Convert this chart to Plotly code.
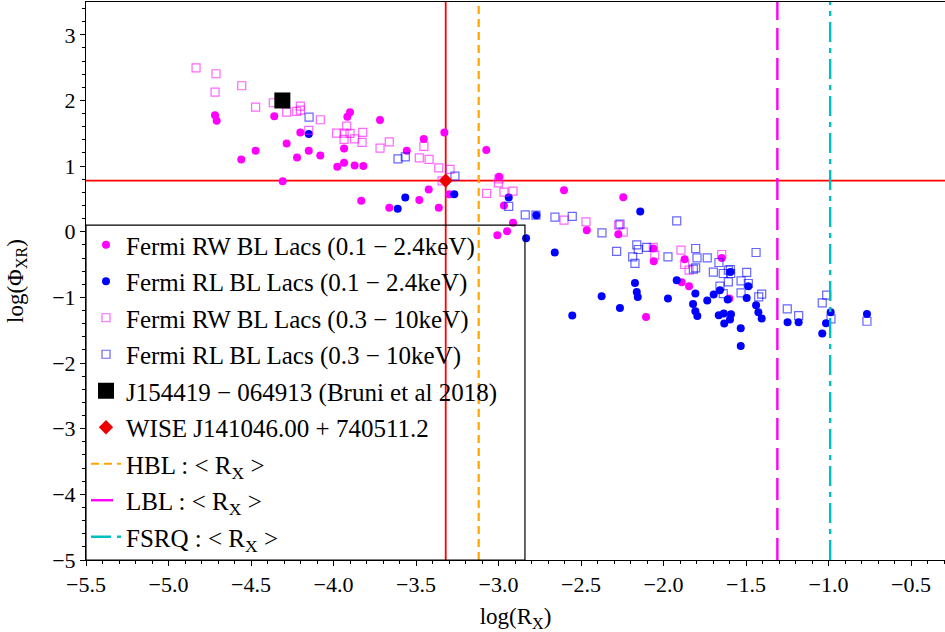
import plotly.graph_objects as go

# ---------------- data ----------------
rw_soft_x = [-4.718, -4.708, -4.359, -4.201, -4.284, -4.472, -4.559, -4.150, -4.221, -4.080,
             -3.936, -3.977, -3.936, -4.308, -3.916, -3.900, -3.718, -3.328, -3.453, -3.556,
             -3.872, -3.819, -3.074, -2.997, -3.423, -3.832, -3.480, -3.662, -3.362, -3.298,
             -2.967, -2.912, -2.948, -3.007, -2.603, -2.244, -2.465, -2.274, -2.062, -2.059,
             -1.872, -1.890, -1.845, -1.647, -2.106, -1.601]
rw_soft_y = [1.773, 1.691, 1.758, 1.514, 1.346, 1.233, 1.102, 1.233, 1.133, 1.163,
             1.270, 0.989, 1.050, 0.771, 1.752, 1.819, 1.701, 1.514, 1.412, 1.233,
             1.011, 1.000, 1.244, 0.837, 0.645, 0.471, 0.482, 0.364, 0.364, 0.573,
             0.401, 0.136, 0.009, -0.052, 0.634, 0.527, 0.024, -0.037, -0.255, -0.448,
             -0.418, -0.768, -0.829, -0.398, -1.297, -1.017]

rl_soft_x = [-4.150, -3.565, -3.611, -3.268, -2.938, -2.833, -2.771, -2.659, -2.141, -1.920,
             -2.173, -2.162, -2.156, -2.375, -2.264, -2.553, -1.973, -1.807, -1.821, -1.807,
             -1.795, -1.735, -1.696, -1.658, -1.665, -1.635, -1.632, -1.611, -1.595, -1.591,
             -1.597, -1.532, -1.532, -1.496, -1.486, -1.439, -1.425, -1.405, -1.248, -1.181,
             -0.987, -1.015, -1.038, -0.767]
rl_soft_y = [1.488, 0.523, 0.349, 0.573, 0.523, -0.098, 0.253, -0.316, 0.309, -0.738,
             -0.779, -0.916, -0.992, -0.982, -1.160, -1.276, -1.017, -0.941, -1.099, -1.210,
             -1.282, -1.047, -0.956, -0.890, -1.271, -1.245, -1.398, -1.032, -0.611, -1.256,
             -1.337, -1.470, -1.739, -1.008, -0.829, -1.119, -1.226, -1.322, -1.378, -1.378,
             -1.226, -1.393, -1.550, -1.252]

rw_hard_x = [-4.833, -4.712, -4.556, -4.718, -4.472, -4.365, -4.284, -4.223, -4.201, -4.201,
             -4.080, -4.150, -3.981, -3.936, -3.936, -3.920, -3.900, -3.872, -3.827, -3.823,
             -3.718, -3.662, -3.452, -3.480, -3.421, -3.362, -3.294, -3.342, -2.997, -3.001,
             -3.072, -2.967, -2.912, -2.603, -2.470, -2.272, -2.244, -2.062, -2.053, -1.894,
             -1.872, -1.845, -1.647]
rw_hard_y = [2.498, 2.407, 2.224, 2.128, 1.899, 1.965, 1.823, 1.834, 1.915, 1.854,
             1.706, 1.544, 1.503, 1.503, 1.407, 1.610, 1.498, 1.416, 1.361, 1.514,
             1.274, 1.370, 1.300, 1.127, 1.102, 0.974, 0.950, 0.776, 0.806, 0.745,
             0.584, 0.604, 0.619, 0.177, 0.151, 0.101, -0.006, -0.239, -0.357, -0.280,
             -0.498, -0.585, -0.346]

rl_hard_x = [-4.148, -3.609, -3.565, -3.264, -2.938, -2.838, -2.773, -2.658, -2.553, -2.373,
             -2.264, -2.284, -2.162, -2.187, -2.173, -2.153, -2.102, -1.973, -1.920, -1.805,
             -1.819, -1.805, -1.797, -1.735, -1.664, -1.698, -1.638, -1.607, -1.658, -1.638,
             -1.439, -1.595, -1.593, -1.607, -1.496, -1.530, -1.486, -1.530, -1.405, -1.423,
             -1.250, -1.181, -1.011, -1.038, -0.985, -0.767]
rl_hard_y = [1.747, 1.111, 1.142, 0.848, 0.386, 0.258, 0.253, 0.223, 0.233, -0.017,
             0.116, -0.300, -0.200, -0.383, -0.483, -0.270, -0.239, -0.383, 0.166, -0.255,
             -0.570, -0.550, -0.398, -0.398, -0.468, -0.616, -0.636, -0.585, -0.829, -0.941,
             -0.316, -0.575, -0.636, -0.764, -0.620, -0.748, -0.788, -0.931, -0.951, -0.992,
             -1.175, -1.276, -0.966, -1.084, -1.328, -1.363]

bruni_x = [-4.31]
bruni_y = [2.0]
wise_x = [-3.32]
wise_y = [0.78]

hbl_mean_rx = -3.12
lbl_mean_rx = -1.31
fsrq_mean_rx = -0.99

x_range = [-5.5, -0.294]
y_range = [-5.0, 3.5]

names = [
    "Fermi RW BL Lacs (0.1 − 2.4keV)",
    "Fermi RL BL Lacs (0.1 − 2.4keV)",
    "Fermi RW BL Lacs (0.3 − 10keV)",
    "Fermi RL BL Lacs (0.3 − 10keV)",
    "J154419 − 064913 (Bruni et al 2018)",
    "WISE J141046.00 + 740511.2",
    "HBL : &lt; R<sub>X</sub> &gt;",
    "LBL : &lt; R<sub>X</sub> &gt;",
    "FSRQ : &lt; R<sub>X</sub> &gt;",
]

FONT = "Liberation Serif"

fig = go.Figure()

# crosshair through WISE source
fig.add_shape(type="line", xref="x", yref="paper", x0=wise_x[0], x1=wise_x[0], y0=0, y1=1,
              line=dict(color="#ff0000", width=1.8), layer="below")
fig.add_shape(type="line", xref="paper", yref="y", x0=0, x1=1, y0=wise_y[0], y1=wise_y[0],
              line=dict(color="#ff0000", width=1.8), layer="below")

fig.add_trace(go.Scatter(x=rw_soft_x, y=rw_soft_y, mode="markers", name=names[0], legendgroup="g0",
                         marker=dict(symbol="circle", size=8, color="#ff00ff", line=dict(width=0))))
fig.add_trace(go.Scatter(x=rl_soft_x, y=rl_soft_y, mode="markers", name=names[1], legendgroup="g1",
                         marker=dict(symbol="circle", size=8, color="#0000ff", line=dict(width=0))))
fig.add_trace(go.Scatter(x=rw_hard_x, y=rw_hard_y, mode="markers", name=names[2], legendgroup="g2",
                         marker=dict(symbol="square-open", size=8, color="rgba(255,0,255,0.6)",
                                     line=dict(width=1.2))))
fig.add_trace(go.Scatter(x=rl_hard_x, y=rl_hard_y, mode="markers", name=names[3], legendgroup="g3",
                         marker=dict(symbol="square-open", size=8, color="rgba(0,0,255,0.6)",
                                     line=dict(width=1.2))))
fig.add_trace(go.Scatter(x=bruni_x, y=bruni_y, mode="markers", name=names[4], legendgroup="g4",
                         marker=dict(symbol="square", size=16, color="black", line=dict(width=0))))
fig.add_trace(go.Scatter(x=wise_x, y=wise_y, mode="markers", name=names[5], legendgroup="g5",
                         marker=dict(symbol="diamond", size=11, color="#ee0000", line=dict(width=0))))
fig.add_trace(go.Scatter(x=[hbl_mean_rx, hbl_mean_rx], y=y_range, mode="lines", name=names[6],
                         legendgroup="g6", line=dict(color="#ffa500", width=2.2, dash="8px,5px")))
fig.add_trace(go.Scatter(x=[lbl_mean_rx, lbl_mean_rx], y=y_range, mode="lines", name=names[7],
                         legendgroup="g7", line=dict(color="#ff00ff", width=2.4, dash="22px,8px")))
fig.add_trace(go.Scatter(x=[fsrq_mean_rx, fsrq_mean_rx], y=y_range, mode="lines", name=names[8],
                         legendgroup="g8", line=dict(color="#00bfbf", width=2.4, dash="20px,6px,5px,6px")))

# legend frame (layout position in paper units)
legend_box = dict(x0=0.0, x1=0.511, y0=0.0, y1=0.600)
fig.add_shape(type="rect", xref="paper", yref="paper", **legend_box,
              line=dict(color="black", width=1.2), fillcolor="rgba(0,0,0,0)", layer="above")

axis_common = dict(
    showline=True, linecolor="black", linewidth=1, mirror=True,
    ticks="outside", ticklen=5, tickwidth=1, tickcolor="black",
    showgrid=False, zeroline=False, automargin=False,
    tickfont=dict(family=FONT, size=22, color="black"),
)

fig.update_xaxes(range=x_range, tickmode="linear", tick0=-5.5, dtick=0.5, tickformat=".1f",
                 minor=dict(ticks="outside", ticklen=3, dtick=0.1, tick0=-5.5, tickcolor="black"),
                 title=dict(text="log(R<sub>X</sub>)", font=dict(family=FONT, size=23, color="black"),
                            standoff=12),
                 **axis_common)
fig.update_yaxes(range=y_range, tickmode="linear", tick0=0, dtick=1,
                 minor=dict(ticks="outside", ticklen=3, dtick=0.2, tick0=0, tickcolor="black"),
                 title=dict(text="log(Φ<sub>XR</sub>)", font=dict(family=FONT, size=23, color="black"),
                            standoff=22),
                 **axis_common)

fig.update_layout(
    width=945, height=632,
    template="none",
    paper_bgcolor="white", plot_bgcolor="white",
    margin=dict(l=86, r=0, t=2, b=72, autoexpand=False),
    font=dict(family=FONT, size=21, color="black"),
    showlegend=True,
    legend=dict(x=0.0, y=0.0, xanchor="left", yanchor="bottom",
                bgcolor="rgba(0,0,0,0)", borderwidth=0,
                font=dict(family=FONT, size=25, color="black"),
                traceorder="grouped", tracegroupgap=1, itemwidth=30),
)

fig.write_html("out.html", config={"displayModeBar": False},
               post_script="document.body.style.margin='0';")
